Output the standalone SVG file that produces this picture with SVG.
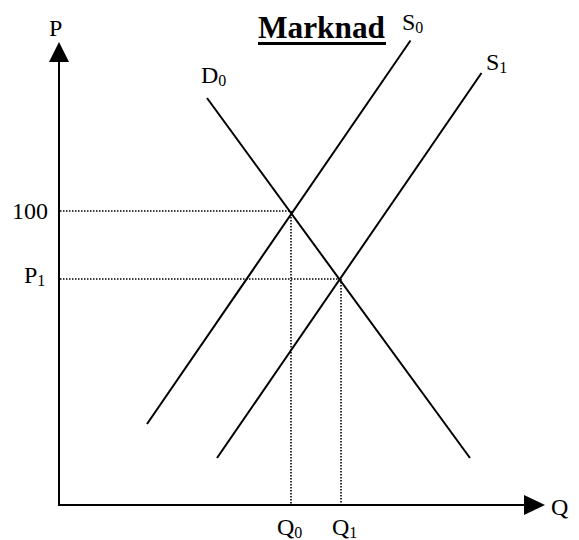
<svg xmlns="http://www.w3.org/2000/svg" width="579" height="540" viewBox="0 0 579 540">
  <style>
    .ax { stroke: #000; stroke-width: 2; fill: none; }
    .curve { stroke: #000; stroke-width: 2; fill: none; }
    .dot { stroke: #000; stroke-width: 1.6; stroke-dasharray: 1.5 1.5; fill: none; }
    .lbl { font-family: "Liberation Serif", "Times New Roman", serif; font-size: 24px; fill: #000; }
    .sub { font-size: 16px; }
    .title { font-family: "Liberation Serif", "Times New Roman", serif; font-size: 31px; font-weight: bold; fill: #000; }
  </style>
  <rect width="579" height="540" fill="#fff"/>

  <g id="axes">
    <line class="ax" x1="59" y1="506" x2="59" y2="60"/>
    <polygon points="59,42 49,62 69,62" fill="#000"/>
    <line class="ax" x1="58" y1="505" x2="526" y2="505"/>
    <polygon points="545,505 524,495 524,515" fill="#000"/>
  </g>

  <g id="connectors">
    <line class="dot" x1="60" y1="211" x2="291" y2="211"/>
    <line class="dot" x1="60" y1="279" x2="341" y2="279"/>
    <line class="dot" x1="291" y1="211" x2="291" y2="504"/>
    <line class="dot" x1="341" y1="279" x2="341" y2="504"/>
  </g>

  <g id="S0">
    <line class="curve" x1="147" y1="424" x2="410.5" y2="40.5"/>
    <text class="lbl" x="402" y="30">S<tspan class="sub" dy="3">0</tspan></text>
  </g>
  <g id="S1">
    <line class="curve" x1="217" y1="458" x2="481.5" y2="73"/>
    <text class="lbl" x="486" y="70">S<tspan class="sub" dy="3">1</tspan></text>
  </g>
  <g id="D0">
    <line class="curve" x1="207" y1="98" x2="470" y2="458"/>
    <text class="lbl" x="201" y="83">D<tspan class="sub" dy="3">0</tspan></text>
  </g>

  <g id="title">
    <text class="title" x="258" y="38" textLength="127" lengthAdjust="spacingAndGlyphs">Marknad</text>
    <rect x="258" y="42" width="128" height="3" fill="#000"/>
  </g>

  <g id="labels">
    <text class="lbl" x="49" y="36">P</text>
    <text class="lbl" x="12" y="219">100</text>
    <text class="lbl" x="24" y="283">P<tspan class="sub" dy="3">1</tspan></text>
    <text class="lbl" x="551" y="515">Q</text>
    <text class="lbl" x="277" y="535">Q<tspan class="sub" dy="3">0</tspan></text>
    <text class="lbl" x="332" y="535">Q<tspan class="sub" dy="3">1</tspan></text>
  </g>
</svg>
